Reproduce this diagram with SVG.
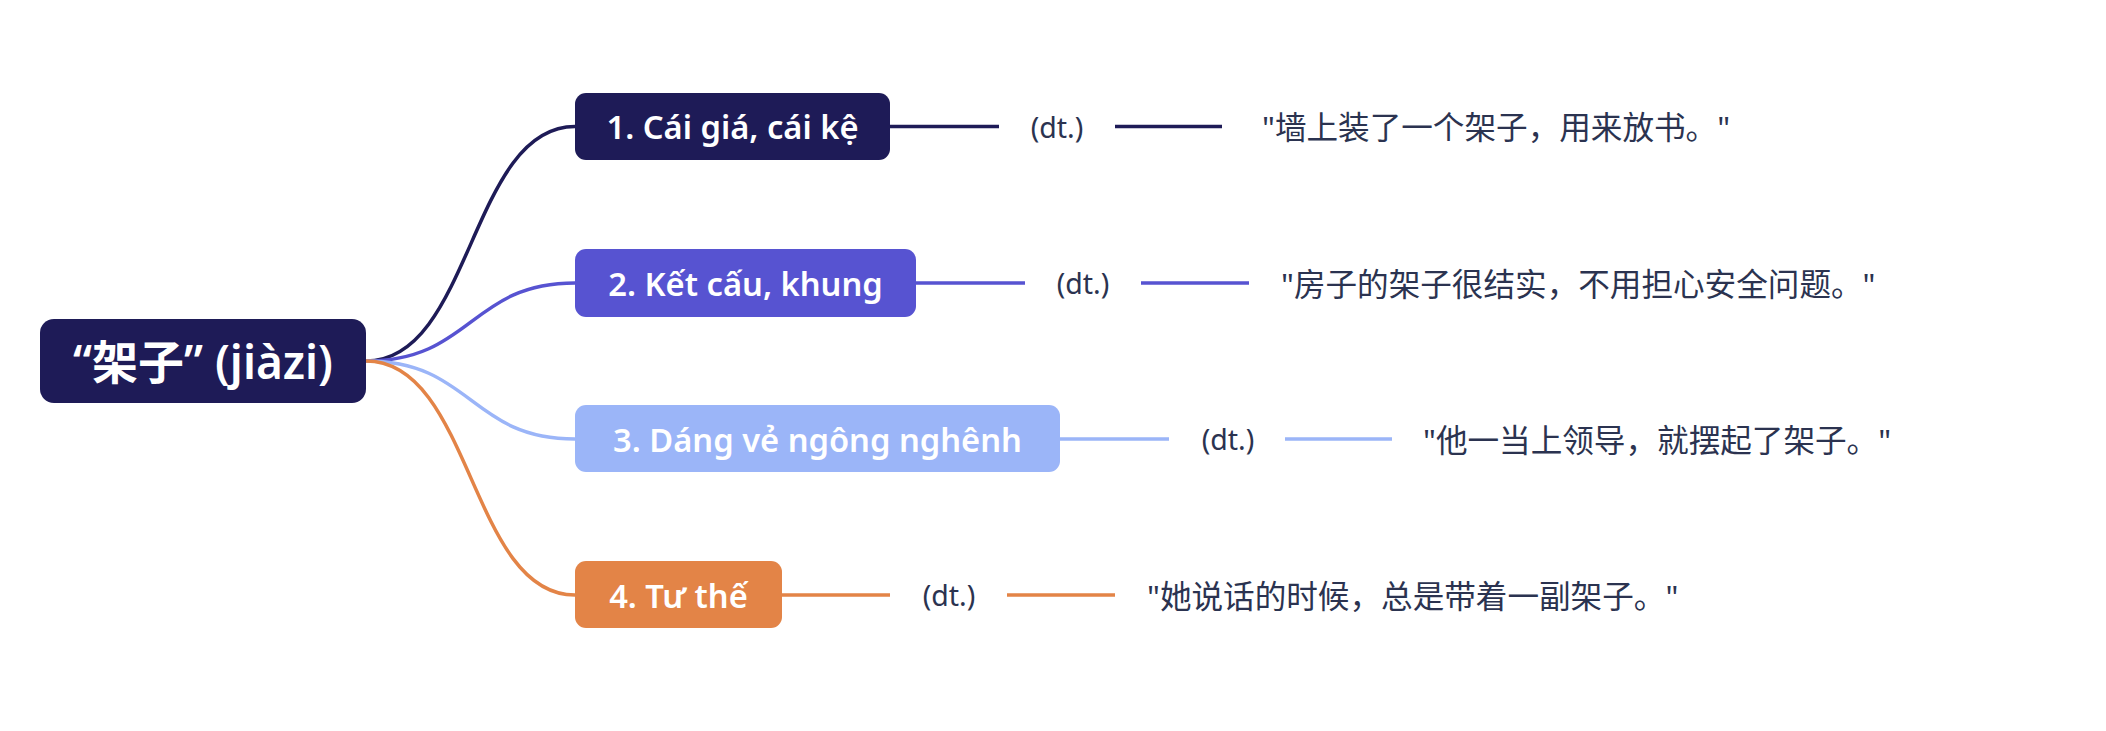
<svg xmlns="http://www.w3.org/2000/svg" width="2106" height="731" viewBox="0 0 2106 731">
<style>
.node-text{font-family:"Noto Sans","Noto Sans CJK SC",sans-serif;font-weight:600;fill:#ffffff;text-anchor:middle;dominant-baseline:central}
.root-text{font-size:46px}
.branch-text{font-size:32.7px}
.pos{font-family:"Noto Sans","Noto Sans CJK SC",sans-serif;font-size:28.5px;fill:#2b3350;text-anchor:middle;dominant-baseline:central}
.ex{font-family:"Noto Sans","Noto Sans CJK SC",sans-serif;font-size:31.6px;fill:#2b3350;dominant-baseline:central}
.conn{fill:none;stroke-width:3.5;stroke-linecap:butt}
.c1{stroke:#1e1b57}.c2{stroke:#5753d1}.c3{stroke:#9bb5f8}.c4{stroke:#e38447}
</style>
<rect width="2106" height="731" fill="#ffffff"/>
<g id="connectors">
<path class="conn c1" d="M366 361 C472 361 470 126.5 575 126.5"/>
<path class="conn c2" d="M366 361 C472 361 470 283 575 283"/>
<path class="conn c3" d="M366 361 C472 361 470 439 575 439"/>
<path class="conn c4" d="M366 361 C472 361 470 595 575 595"/>
<path class="conn c1" d="M890 126.5 H999 M1115 126.5 H1222"/>
<path class="conn c2" d="M916 283 H1025 M1141 283 H1249"/>
<path class="conn c3" d="M1060 439 H1169 M1285 439 H1392"/>
<path class="conn c4" d="M782 595 H890 M1007 595 H1115"/>
</g>
<g id="root">
<rect x="40" y="319" width="326" height="84" rx="14" fill="#1e1b57"/>
<text class="node-text root-text" x="203" y="361">“架子” (jiàzi)</text>
</g>
<g id="node1">
<rect x="575" y="93" width="315" height="67" rx="11" fill="#1e1b57"/>
<text class="node-text branch-text" x="732.5" y="126.5">1. Cái giá, cái kệ</text>
</g>
<g id="node2">
<rect x="575" y="249" width="341" height="68" rx="11" fill="#5753d1"/>
<text class="node-text branch-text" x="745.5" y="283">2. Kết cấu, khung</text>
</g>
<g id="node3">
<rect x="575" y="405" width="485" height="67" rx="11" fill="#9bb5f8"/>
<text class="node-text branch-text" x="817.5" y="439">3. Dáng vẻ ngông nghênh</text>
</g>
<g id="node4">
<rect x="575" y="561" width="207" height="67" rx="11" fill="#e38447"/>
<text class="node-text branch-text" x="678.5" y="595">4. Tư thế</text>
</g>
<g id="pos1"><text class="pos" x="1057" y="126.5">(dt.)</text></g>
<g id="pos2"><text class="pos" x="1083" y="283">(dt.)</text></g>
<g id="pos3"><text class="pos" x="1228" y="439">(dt.)</text></g>
<g id="pos4"><text class="pos" x="949" y="595">(dt.)</text></g>
<g id="ex1"><text class="ex" x="1262" y="126.5">"墙上装了一个架子，用来放书。"</text></g>
<g id="ex2"><text class="ex" x="1281" y="283">"房子的架子很结实，不用担心安全问题。"</text></g>
<g id="ex3"><text class="ex" x="1423" y="439">"他一当上领导，就摆起了架子。"</text></g>
<g id="ex4"><text class="ex" x="1147" y="595">"她说话的时候，总是带着一副架子。"</text></g>
</svg>
